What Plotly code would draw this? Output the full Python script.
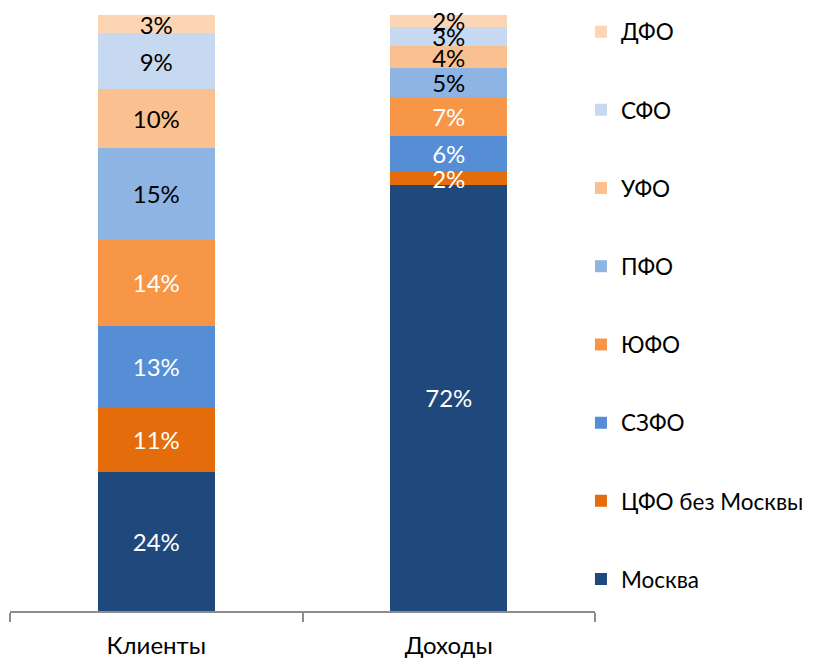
import plotly.graph_objects as go

categories = ["Клиенты", "Доходы"]
series_names = ["Москва", "ЦФО без Москвы", "СЗФО", "ЮФО", "ПФО", "УФО", "СФО", "ДФО"]
# shares (%)
moskva = [23.3, 71.5]
cfo = [11.0, 2.3]
szfo = [13.5, 5.9]
yufo = [14.5, 6.6]
pfo = [15.4, 4.8]
ufo = [9.9, 3.7]
sfo = [9.3, 3.2]
dfo = [3.1, 2.0]
# data labels as printed on the chart
moskva_lbl = ["24%", "72%"]
cfo_lbl = ["11%", "2%"]
szfo_lbl = ["13%", "6%"]
yufo_lbl = ["14%", "7%"]
pfo_lbl = ["15%", "5%"]
ufo_lbl = ["10%", "4%"]
sfo_lbl = ["9%", "3%"]
dfo_lbl = ["3%", "2%"]

values = [moskva, cfo, szfo, yufo, pfo, ufo, sfo, dfo]
labels = [moskva_lbl, cfo_lbl, szfo_lbl, yufo_lbl, pfo_lbl, ufo_lbl, sfo_lbl, dfo_lbl]
colors = ["#1F497D", "#E46C0A", "#558ED5", "#F79646", "#8EB4E3", "#FAC090", "#C6D9F1", "#FCD5B5"]
text_colors = ["white", "white", "white", "white", "black", "black", "black", "black"]

FONT = "Lato, 'Open Sans', sans-serif"
# page body has an 8px default margin, so the figure is 8px smaller
W, H = 808, 651
M_L, M_R, M_T, M_B = 2, 221, 7, 48
PLOT_H = H - M_T - M_B

fig = go.Figure()
legend_layout = {}
n = len(series_names)
for i, (name, v, lbl, c, tc) in enumerate(zip(series_names, values, labels, colors, text_colors)):
    lg = "legend" if i == 0 else f"legend{i + 1}"
    fig.add_trace(go.Bar(
        x=categories, y=v, name=name, text=lbl,
        marker=dict(color=c, line=dict(width=0)),
        textposition="inside", insidetextanchor="middle", constraintext="none",
        textangle=0, cliponaxis=False,
        insidetextfont=dict(color=tc, size=24, family=FONT),
        legend=lg,
        hoverinfo="skip",
    ))
    # legend entries stacked top-to-bottom in reverse series order
    k = n - 1 - i
    y_px = 24 + 78.2 * k
    legend_layout[lg] = dict(
        x=0.976, xanchor="left", xref="paper",
        y=(H - M_B - y_px) / PLOT_H, yanchor="middle", yref="paper",
        font=dict(size=22.5, family=FONT, color="black"),
        itemwidth=30, bgcolor="rgba(0,0,0,0)", borderwidth=0,
    )

fig.update_layout(
    barmode="stack",
    bargap=0.6,
    width=W, height=H,
    margin=dict(l=M_L, r=M_R, t=M_T, b=M_B, autoexpand=False),
    paper_bgcolor="white", plot_bgcolor="white",
    font=dict(family=FONT, size=22, color="black"),
    showlegend=True,
    xaxis=dict(
        showline=True, linecolor="#8C8C8C", linewidth=1.5,
        ticks="outside", tickson="boundaries", ticklen=9, tickcolor="#8C8C8C", tickwidth=1.5,
        ticklabelstandoff=12,
        tickfont=dict(size=24, family=FONT), showgrid=False,
    ),
    yaxis=dict(range=[0, 100], visible=False, showgrid=False),
    **legend_layout,
)

fig.write_html("out.html")
